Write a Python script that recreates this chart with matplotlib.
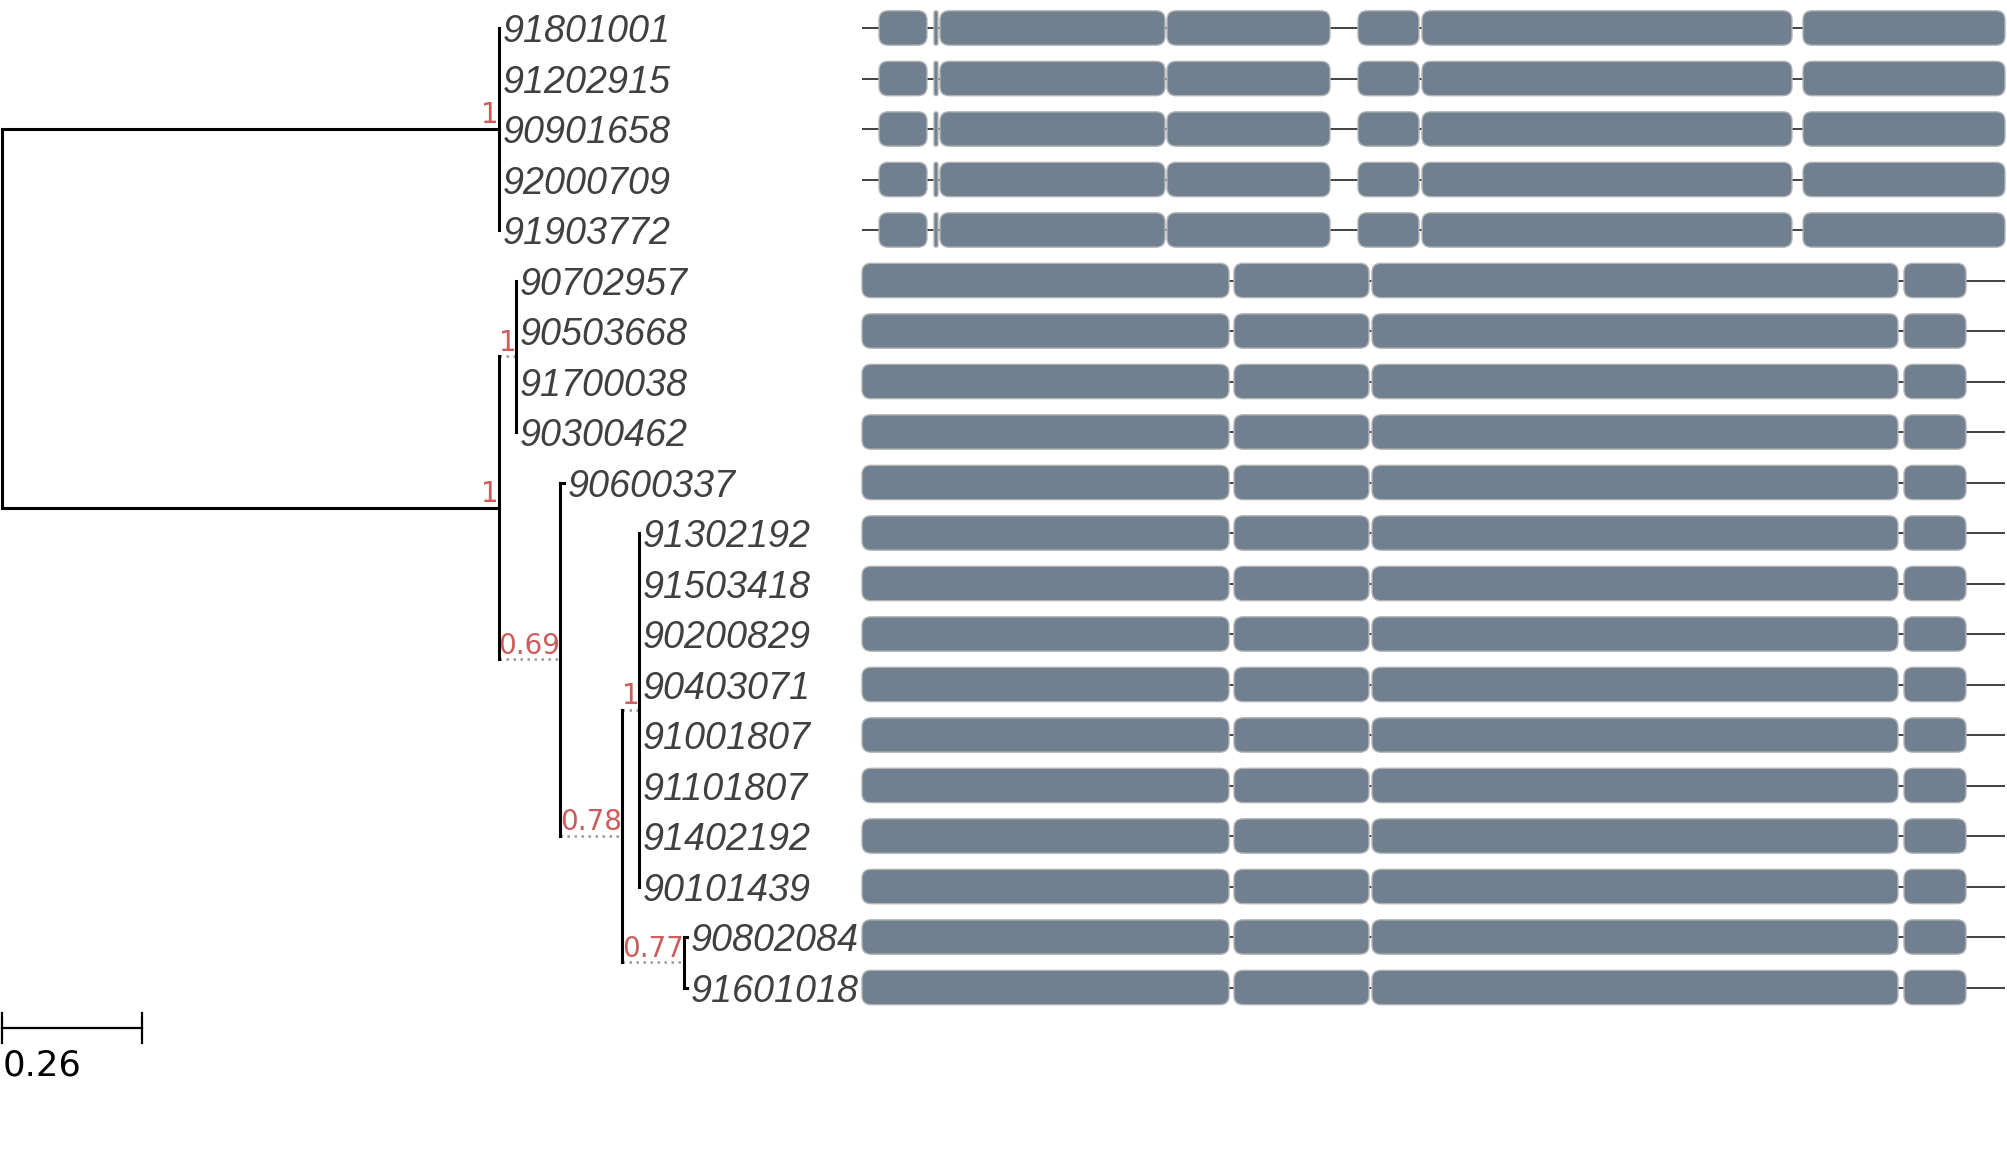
"""Phylogenetic tree with gene-structure panel (exon/intron layout per leaf)."""

import matplotlib

matplotlib.use("Agg")
import matplotlib.pyplot as plt
from matplotlib.patches import FancyBboxPatch

# ---------------------------------------------------------------- data
leaf_names = [
    "91801001", "91202915", "90901658", "92000709", "91903772",
    "90702957", "90503668", "91700038", "90300462",
    "90600337",
    "91302192", "91503418", "90200829", "90403071",
    "91001807", "91101807", "91402192", "90101439",
    "90802084", "91601018",
]
leaf_parent = ["A"] * 5 + ["C"] * 4 + ["D"] + ["F"] * 8 + ["G"] * 2
leaf_length = [0.0] * 9 + [0.007] + [0.0] * 8 + [0.007] * 2

# internal nodes (children listed after their parents)
node_ids = ["root", "A", "B", "C", "D", "E", "F", "G"]
node_parent = [None, "root", "root", "B", "B", "D", "E", "E"]
node_length = [0.0, 0.926, 0.926, 0.032, 0.114, 0.115, 0.032, 0.115]
node_support = [None, "1", "1", "1", "0.69", "0.78", "1", "0.77"]

scale_bar = 0.26

# gene models (bp from gene start); rows 1-5 type 1, rest type 2
gene_len = 1143
type1_exons = [(17, 65), (72, 76), (78, 303), (305, 468),
               (496, 557), (560, 930), (941, 1143)]
type2_exons = [(0, 367), (372, 507), (510, 1036), (1042, 1104)]
leaf_gene_type = [1] * 5 + [2] * 15

# ---------------------------------------------------------------- layout
W, H, DPI = 2007, 1153, 100
ROW0_PX, ROW_PX = 28.0, 50.5          # first row centre, row pitch
PX_PER_UNIT = 536.8                   # tree scale
TREE_X0_PX = 2.0
GENE_LEFT_PX, GENE_WIDTH_PX = 862.0, 1143.0

LABEL_COLOR = "#404040"
SUPPORT_COLOR = "#cd5c5c"
EXON_COLOR = "#708090"

ylim = ((H - ROW0_PX) / ROW_PX, -ROW0_PX / ROW_PX)

fig = plt.figure(figsize=(W / DPI, H / DPI), dpi=DPI)
ax_gene = fig.add_axes([GENE_LEFT_PX / W, 0, GENE_WIDTH_PX / W, 1])
ax_tree = fig.add_axes([0, 0, GENE_LEFT_PX / W, 1], zorder=3)
for ax in (ax_tree, ax_gene):
    ax.set_axis_off()
    ax.patch.set_visible(False)
    ax.set_ylim(*ylim)
ax_tree.set_xlim(-TREE_X0_PX / PX_PER_UNIT,
                 (GENE_LEFT_PX - TREE_X0_PX) / PX_PER_UNIT)
ax_gene.set_xlim(0, gene_len)

# ---------------------------------------------------------------- tree coords
parent_of = dict(zip(node_ids, node_parent))
parent_of.update(zip(leaf_names, leaf_parent))
length_of = dict(zip(node_ids, node_length))
length_of.update(zip(leaf_names, leaf_length))

xpos = {}
for n in node_ids + leaf_names:
    p = parent_of[n]
    xpos[n] = 0.0 if p is None else xpos[p] + length_of[n]

children = {n: [] for n in node_ids}
for n in node_ids[1:] + leaf_names:
    children[parent_of[n]].append(n)

ypos = {name: i for i, name in enumerate(leaf_names)}


def node_y(n):
    if n not in ypos:
        ys = [node_y(c) for c in children[n]]
        ypos[n] = (min(ys) + max(ys)) / 2
    return ypos[n]


for n in node_ids:
    node_y(n)

# horizontal branches
for n in node_ids[1:] + leaf_names:
    p = parent_of[n]
    if length_of[n] <= 0:
        continue
    internal = n in children
    if internal and p != "root":
        ax_tree.plot([xpos[p], xpos[n]], [ypos[n], ypos[n]], color="#999999",
                     lw=1.8, linestyle=(0, (1, 1.8)), solid_capstyle="butt")
    else:
        ax_tree.plot([xpos[p], xpos[n]], [ypos[n], ypos[n]], color="black",
                     lw=2.2)

# vertical connectors
for n in node_ids:
    ys = [ypos[c] for c in children[n]]
    ax_tree.plot([xpos[n], xpos[n]], [min(ys), max(ys)], color="black", lw=2.2)

# support values
for n, s in zip(node_ids, node_support):
    if s is None:
        continue
    ax_tree.annotate(s, xy=(xpos[n], ypos[n]), xytext=(0, 4),
                     textcoords="offset points", ha="right", va="baseline",
                     fontsize=20, color=SUPPORT_COLOR, family="DejaVu Sans")

# tip labels
for name in leaf_names:
    ax_tree.annotate(name, xy=(xpos[name], ypos[name]), xytext=(2.5, 0),
                     textcoords="offset points", ha="left",
                     va="center_baseline", fontsize=27.2, style="italic",
                     color=LABEL_COLOR, family="Liberation Sans")

# scale bar
sb_y = len(leaf_names) - 1 + 0.8
ax_tree.plot([0, scale_bar], [sb_y, sb_y], color="black", lw=1.6)
for xx in (0, scale_bar):
    ax_tree.plot([xx, xx], [sb_y - 0.3, sb_y + 0.3], color="black", lw=1.6)
ax_tree.text(0.002, sb_y + 0.68, f"{scale_bar:g}", ha="left",
             va="center_baseline", fontsize=25.5, color="black",
             family="DejaVu Sans")

# ---------------------------------------------------------------- gene models
box_h = 0.68
for i, gtype in enumerate(leaf_gene_type):
    exons = type1_exons if gtype == 1 else type2_exons
    ax_gene.plot([0, gene_len], [i, i], color="#333333", lw=1.3, zorder=1,
                 solid_capstyle="butt")
    for start, end in exons:
        w = end - start
        r = min(9.0, w / 2, box_h * ROW_PX / 2)
        ax_gene.add_patch(FancyBboxPatch(
            (start, i - box_h / 2), w, box_h,
            boxstyle=f"round,pad=0,rounding_size={r}",
            mutation_aspect=1 / ROW_PX,
            facecolor=EXON_COLOR, edgecolor="#b4b4b4", linewidth=1.0,
            zorder=2, clip_on=False,
        ))

fig.savefig("out.png", dpi=DPI)
